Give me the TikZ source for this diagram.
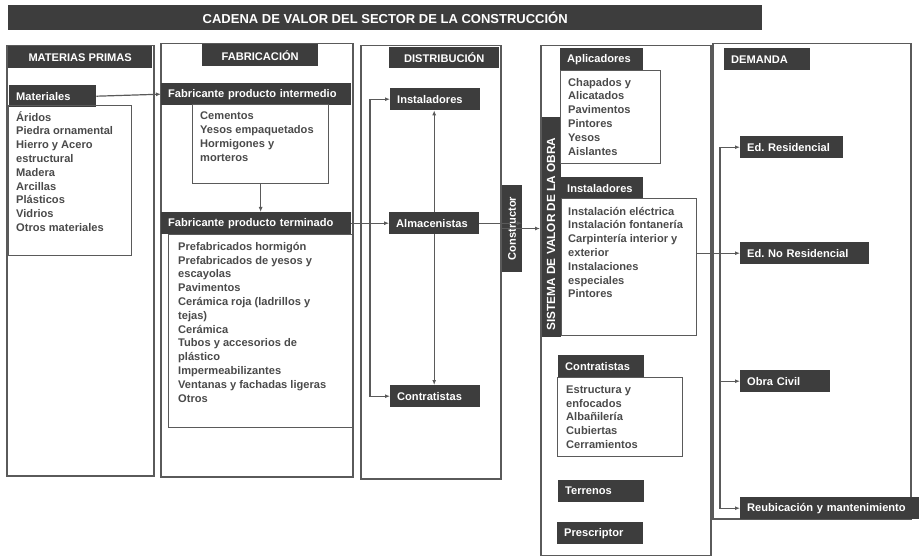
\documentclass[tikz,border=0pt]{standalone}
\usepackage{fontspec}
\setmainfont{Liberation Sans}
\usetikzlibrary{arrows.meta}
\definecolor{barfill}{HTML}{3D3D3D}
\definecolor{edge}{HTML}{5A5A5A}
\definecolor{ink}{HTML}{4A4A4A}
\newcommand{\liststrut}{\rule{0pt}{10.5pt}}

\begin{document}
\begin{tikzpicture}[x=1pt,y=-1pt,>={Latex[length=5pt,width=4pt]},
  column/.style={draw=edge,line width=1.5pt,anchor=north west,inner sep=0pt},
  bar/.style={fill=barfill,text=white,anchor=north west,inner xsep=7pt,inner ysep=0pt,
    minimum height=22pt,align=left,font=\fontsize{11.1}{13}\selectfont\bfseries},
  listbox/.style={draw=edge,line width=1.3pt,anchor=north west,inner sep=0pt},
  listtext/.style={anchor=north west,inner sep=0pt,align=left,text=ink,
    font=\fontsize{11.1}{13.8}\selectfont\bfseries},
  link/.style={draw=edge,line width=1.2pt,->}]
  \useasboundingbox (0,0) rectangle (919,556);

  % Title
  \node[bar,minimum width=754,minimum height=25,font=\fontsize{13}{15}\selectfont\bfseries] (title) at (8,5)
  {CADENA DE VALOR DEL SECTOR DE LA CONSTRUCCIÓN};

  % Materias primas
  \node[column,minimum width=147,minimum height=430] (colmat) at (6,45) {};
  \node[bar,minimum width=144] (hmat) at (8,46) {MATERIAS PRIMAS};
  \node[bar,text width=73] (tagmat) at (9,85) {Materiales};
  \node[listbox,minimum width=123,minimum height=150] (boxmat) at (8,105) {};
  \node[listtext] (txtmat) at ([xshift=8,yshift=-5.5]boxmat.north west)
  {\liststrut Áridos\\Piedra ornamental\\Hierro y Acero\\estructural\\Madera\\Arcillas\\Plásticos\\Vidrios\\Otros materiales};

  % Fabricacion
  \node[column,minimum width=192,minimum height=433] (colfab) at (160,43) {};
  \node[bar,minimum width=116] (hfab) at (202,44) {FABRICACIÓN};
  \node[bar,text width=176] (fabint) at (161,83) {Fabricante producto intermedio};
  \node[listbox,minimum width=136,minimum height=79] (boxint) at (192,104) {};
  \node[listtext] (txtint) at ([xshift=8,yshift=-5]boxint.north west)
  {\liststrut Cementos\\Yesos empaquetados\\Hormigones y\\morteros};
  \node[bar,text width=176] (fabter) at (161,212) {Fabricante producto terminado};
  \node[listbox,minimum width=184,minimum height=193] (boxter) at (168,234) {};
  \node[listtext] (txtter) at ([xshift=10,yshift=-5.5]boxter.north west)
  {\liststrut Prefabricados hormigón\\Prefabricados de yesos y\\escayolas\\Pavimentos\\Cerámica roja (ladrillos y\\tejas)\\Cerámica\\Tubos y accesorios de\\plástico\\Impermeabilizantes\\Ventanas y fachadas ligeras\\Otros};
  \draw[link] (tagmat.east) -- (fabint.west);
  \draw[link] (boxint.south) -- (boxint.south |- fabter.north);

  % Distribucion
  \node[column,minimum width=140,minimum height=433] (coldis) at (360,45) {};
  \node[bar,minimum width=110,minimum height=21] (hdis) at (389,47) {DISTRIBUCIÓN};
  \node[bar,text width=76] (disins) at (390,88) {Instaladores};
  \node[bar,text width=76] (disalm) at (389,212) {Almacenistas};
  \node[bar,text width=76] (discon) at (390,385) {Contratistas};
  \node[bar,rotate=90,anchor=center,minimum width=87,minimum height=20] (constr) at (512,228.5) {Constructor};
  \coordinate (split) at ([xshift=10]coldis.west |- fabter.east);
  \draw[link,line width=0.8pt] (fabter.east) -- (disalm.west);
  \draw[link] (split) |- (disins.west);
  \draw[link] (split) |- (discon.west);
  \draw[link] (disalm.north) -- (disalm.north |- disins.south);
  \draw[link] (disalm.south) -- (disalm.south |- discon.north);
  \draw[link] (disalm.east) -- (disalm.east -| constr.south);

  % Sistema de valor de la obra
  \node[column,minimum width=170,minimum height=510] (colobra) at (540,45) {};
  \node[bar,rotate=90,anchor=center,minimum width=220,minimum height=19,
    font=\fontsize{11.8}{13}\selectfont\bfseries] (sistema) at (551,227) {SISTEMA DE VALOR DE LA OBRA\hspace*{14pt}};
  \node[bar,text width=69] (tagapl) at (560,48) {Aplicadores};
  \node[listbox,minimum width=100,minimum height=93] (boxapl) at (560,70) {};
  \node[listtext] (txtapl) at ([xshift=8,yshift=-5.5]boxapl.north west)
  {\liststrut Chapados y\\Alicatados\\Pavimentos\\Pintores\\Yesos\\Aislantes};
  \node[bar,text width=69] (tagins) at (560,177) {Instaladores};
  \node[listbox,minimum width=135,minimum height=137] (boxins) at (561,198) {};
  \node[listtext] (txtins) at ([xshift=7,yshift=-6.5]boxins.north west)
  {\liststrut Instalación eléctrica\\Instalación fontanería\\Carpintería interior y\\exterior\\Instalaciones\\especiales\\Pintores};
  \node[bar,text width=72] (tagcon) at (558,355) {Contratistas};
  \node[listbox,minimum width=125,minimum height=79] (boxcon) at (557,377) {};
  \node[listtext] (txtcon) at ([xshift=9,yshift=-5.5]boxcon.north west)
  {\liststrut Estructura y\\enfocados\\Albañilería\\Cubiertas\\Cerramientos};
  \node[bar,text width=72] (terr) at (558,480) {Terrenos};
  \node[bar,text width=72] (presc) at (557,522) {Prescriptor};
  \draw[link] (constr.north) -- (constr.north -| colobra.west);

  % Demanda
  \node[column,minimum width=198,minimum height=475] (coldem) at (712,43) {};
  \node[bar,text width=72] (hdem) at (724,48) {DEMANDA};
  \node[bar,text width=89] (resid) at (740,136) {Ed.\ Residencial};
  \node[bar,text width=115] (noresid) at (740,242) {Ed.\ No Residencial};
  \node[bar,text width=76] (civil) at (740,370) {Obra Civil};
  \node[bar,text width=165] (reub) at (740,497) {Reubicación y mantenimiento};
  \coordinate (bus) at ([xshift=8]coldem.west |- noresid.west);
  \draw[link] (boxins.east |- noresid.west) -- (noresid.west);
  \draw[link] (bus) |- (resid.west);
  \draw[link] (bus) |- (civil.west);
  \draw[link] (bus) |- (reub.west);
\end{tikzpicture}
\end{document}
